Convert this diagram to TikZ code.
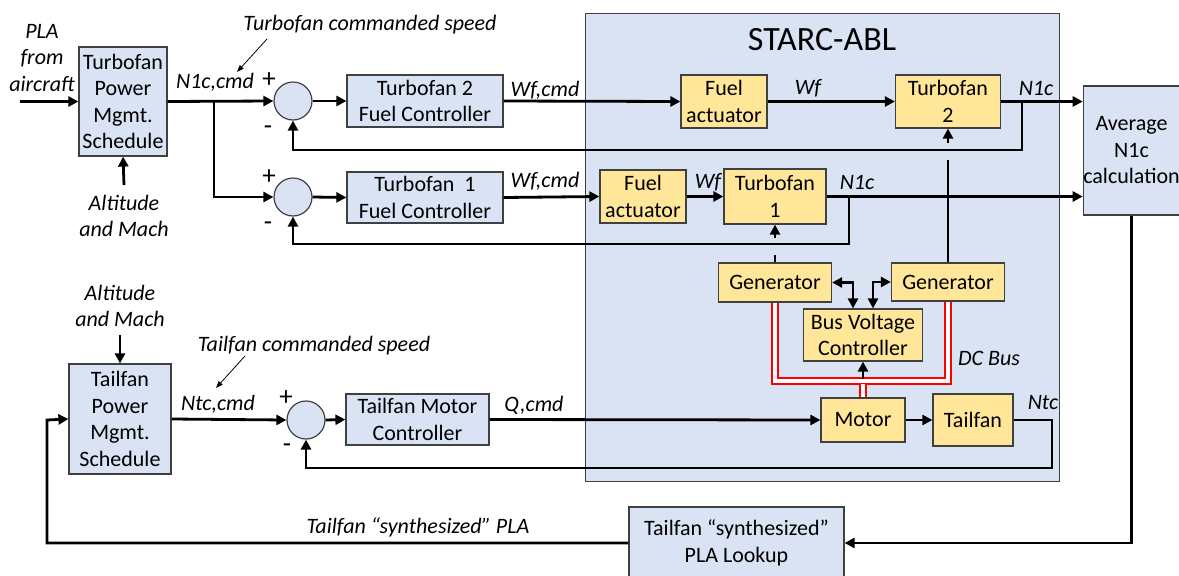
\documentclass[tikz,border=0pt]{standalone}
\usepackage{fontspec}
\setmainfont{Carlito}
\usetikzlibrary{arrows.meta,calc}
\definecolor{bfill}{RGB}{218,227,243}
\definecolor{yfill}{RGB}{255,230,153}
\definecolor{edge}{RGB}{64,64,64}
\begin{document}
\begin{tikzpicture}[x=1pt,y=-1pt, font=\fontsize{22}{26.5}\selectfont,
 bbox/.style={draw=edge, line width=1.2pt, fill=bfill, align=center, inner sep=0pt},
 ybox/.style={draw=edge, line width=1.2pt, fill=yfill, align=center, inner sep=0pt},
 sumc/.style={circle, draw=edge, line width=1.2pt, fill=bfill, minimum size=38pt, inner sep=0pt},
 arr/.style={line width=2.8pt, -{Triangle[length=10pt,width=10pt]}},
 wire/.style={line width=2.8pt},
 lbl/.style={font=\fontsize{22}{26.5}\selectfont\itshape, inner sep=0pt, align=center},
 sgn/.style={font=\fontsize{27}{30}\selectfont, inner sep=0pt},
 ptr/.style={line width=0.8pt, -{Triangle[length=7pt,width=5pt]}},
 dcbus/.style={draw=red, line width=2.2pt, double=white, double distance=3.4pt}
]
\useasboundingbox (0,0) rectangle (1179,576);
% STARC-ABL container
\node[bbox, minimum width=474pt, minimum height=468pt, anchor=north west] (starc) at (585,13) {};
\node[font=\fontsize{34}{38}\selectfont, inner sep=0pt] (title) at (822,40) {STARC-ABL};

% blocks
\node[bbox, minimum width=88pt, minimum height=109pt] (tpm) at (123,101.5) {Turbofan\\Power\\Mgmt.\\Schedule};
\node[sumc] (s1) at (293,101) {};
\node[sumc] (s2) at (293,197) {};
\node[bbox, minimum width=156pt, minimum height=52pt] (tfc2) at (425,101) {Turbofan 2\\Fuel Controller};
\node[bbox, minimum width=156pt, minimum height=51pt] (tfc1) at (425,197.5) {Turbofan~~1\\Fuel Controller};
\node[ybox, minimum width=86pt, minimum height=53pt] (fa2) at (724,101.5) {Fuel\\actuator};
\node[ybox, minimum width=105pt, minimum height=53pt] (tf2) at (948,101.5) {Turbofan\\2};
\node[ybox, minimum width=86pt, minimum height=53pt] (fa1) at (643,196.5) {Fuel\\actuator};
\node[ybox, minimum width=102pt, minimum height=55pt] (tf1) at (775,196.5) {Turbofan\\1};
\node[bbox, minimum width=95pt, minimum height=129pt] (avg) at (1131.5,150.5) {Average\\N1c\\calculation};
\node[ybox, minimum width=113pt, minimum height=39pt] (gen1) at (775,282.5) {Generator};
\node[ybox, minimum width=113pt, minimum height=38pt] (gen2) at (948,282) {Generator};
\node[ybox, minimum width=119pt, minimum height=52pt] (bvc) at (863,335) {Bus Voltage\\Controller};
\node[ybox, minimum width=84pt, minimum height=44pt] (motor) at (863,420) {Motor};
\node[ybox, minimum width=80pt, minimum height=52pt] (tailfan) at (973,420) {Tailfan};
\node[bbox, minimum width=102pt, minimum height=110pt] (ttpm) at (120,419) {Tailfan\\Power\\Mgmt.\\Schedule};
\node[sumc] (s3) at (306,420) {};
\node[bbox, minimum width=143pt, minimum height=51pt] (tmc) at (417.5,419.5) {Tailfan Motor\\Controller};
\node[bbox, minimum width=215pt, minimum height=72pt] (lookup) at (736.5,543) {Tailfan “synthesized”\\PLA Lookup};

% texts
\node[lbl] (pla) at (42,58) {PLA\\from\\aircraft};
\node[lbl] (alt1) at (124,216) {Altitude\\and Mach};
\node[lbl] (alt2) at (120,306) {Altitude\\and Mach};
\node[lbl] (tcs) at (370,25) {Turbofan commanded speed};
\node[lbl] (n1cmd) at (215,82) {N1c,cmd};
\node[sgn] (p1) at (269,80) {+};
\node[sgn] (m1) at (268,130) {-};
\node[sgn] (p2) at (269,177) {+};
\node[sgn] (m2) at (268,226) {-};
\node[lbl] (wfc2) at (545,90) {Wf,cmd};
\node[lbl] (wfc1) at (545,181) {Wf,cmd};
\node[lbl] (wf2) at (808,88) {Wf};
\node[lbl] (wf1) at (708,182) {Wf};
\node[lbl] (n1c2) at (1036,88) {N1c};
\node[lbl] (n1c1) at (857,182) {N1c};
\node[lbl] (dcb) at (989,358) {DC Bus};
\node[lbl] (ntc) at (1043,403) {Ntc};
\node[lbl] (tfcs) at (314,346) {Tailfan commanded speed};
\node[lbl] (ntccmd) at (218,404) {Ntc,cmd};
\node[sgn] (p3) at (286,398) {+};
\node[sgn] (m3) at (287,448) {-};
\node[lbl] (qcmd) at (534,405) {Q,cmd};
\node[lbl] (synpla) at (418,527) {Tailfan “synthesized” PLA};

% coordinates
\coordinate (plaS) at (20,101.5);
\coordinate (alt1S) at (124,185);
\coordinate (alt2S) at (120,335);
\coordinate (br) at (214,101.5);
\coordinate (fb2) at (1022,101.5);
\coordinate (fb2c) at (1022,150);
\coordinate (fb1) at (849,196.5);
\coordinate (fb1c) at (849,244);
\coordinate (g1top) at (775,255);
\coordinate (t1arr) at (775,238);
\coordinate (g2top) at (948,160);
\coordinate (t2arr) at (948,143);
\coordinate (bL) at (853,282.5);
\coordinate (bR) at (873,282);
\coordinate (busL) at (775,381);
\coordinate (busR) at (948,381);
\coordinate (busM) at (863,384);
\coordinate (bvcin) at (863,379);
\coordinate (ntcR) at (1052,420);
\coordinate (ntcC) at (1052,468);
\coordinate (fbL) at (47,420);
\coordinate (tcsA) at (267,39);
\coordinate (tcsB) at (237,72);
\coordinate (tfcsA) at (245,356);
\coordinate (tfcsB) at (216,388);

% connectors: turbofan loop
\draw[arr] (plaS) -- (tpm.west);
\draw[arr] (alt1S) -- (tpm.south);
\draw[arr] (tpm.east) -- (s1.west);
\draw[arr] (br) |- (s2.west);
\draw[arr] (s1.east) -- (tfc2.west);
\draw[arr] (s2.east) -- (tfc1.west);
\draw[arr] (tfc2.east) -- (fa2.west);
\draw[arr] (fa2.east) -- (tf2.west);
\draw[arr] (tf2.east) -- (avg.west |- tf2.east);
\draw[arr] (fb2) -- (fb2c) -| (s1.south);
\draw[arr] (tfc1.east) -- (fa1.west);
\draw[arr] (fa1.east) -- (tf1.west);
\draw[arr] (tf1.east) -- (avg.west |- tf1.east);
\draw[arr] (fb1) -- (fb1c) -| (s2.south);
\draw[wire] (gen1.north) -- (g1top);
\draw[arr] (t1arr) -- (tf1.south);
\draw[wire] (gen2.north) -- (g2top);
\draw[arr] (t2arr) -- (tf2.south);
\draw[line width=2.8pt, {Triangle[length=10pt,width=10pt]}-{Triangle[length=10pt,width=10pt]}] (gen1.east) -- (bL) -- (bvc.north -| bL);
\draw[line width=2.8pt, {Triangle[length=10pt,width=10pt]}-{Triangle[length=10pt,width=10pt]}] (gen2.west) -- (bR) -- (bvc.north -| bR);

% DC bus
\draw[dcbus] (gen1.south) -- (busL) -- (busR) -- (gen2.south);
\draw[dcbus] (busM) -- (motor.north);
\draw[arr] (bvcin) -- (bvc.south);

% tailfan loop
\draw[arr] (alt2S) -- (ttpm.north);
\draw[arr] (ttpm.east) -- (s3.west);
\draw[arr] (s3.east) -- (tmc.west);
\draw[arr] (tmc.east) -- (motor.west);
\draw[arr] (motor.east) -- (tailfan.west);
\draw[arr] (tailfan.east) -- (ntcR) -- (ntcC) -| (s3.south);
\draw[arr] (avg.south) |- (lookup.east);
\draw[arr] (lookup.west) -| (fbL) -- (ttpm.west);

% pointers
\draw[ptr] (tcsA) -- (tcsB);
\draw[ptr] (tfcsA) -- (tfcsB);
\end{tikzpicture}
\end{document}
